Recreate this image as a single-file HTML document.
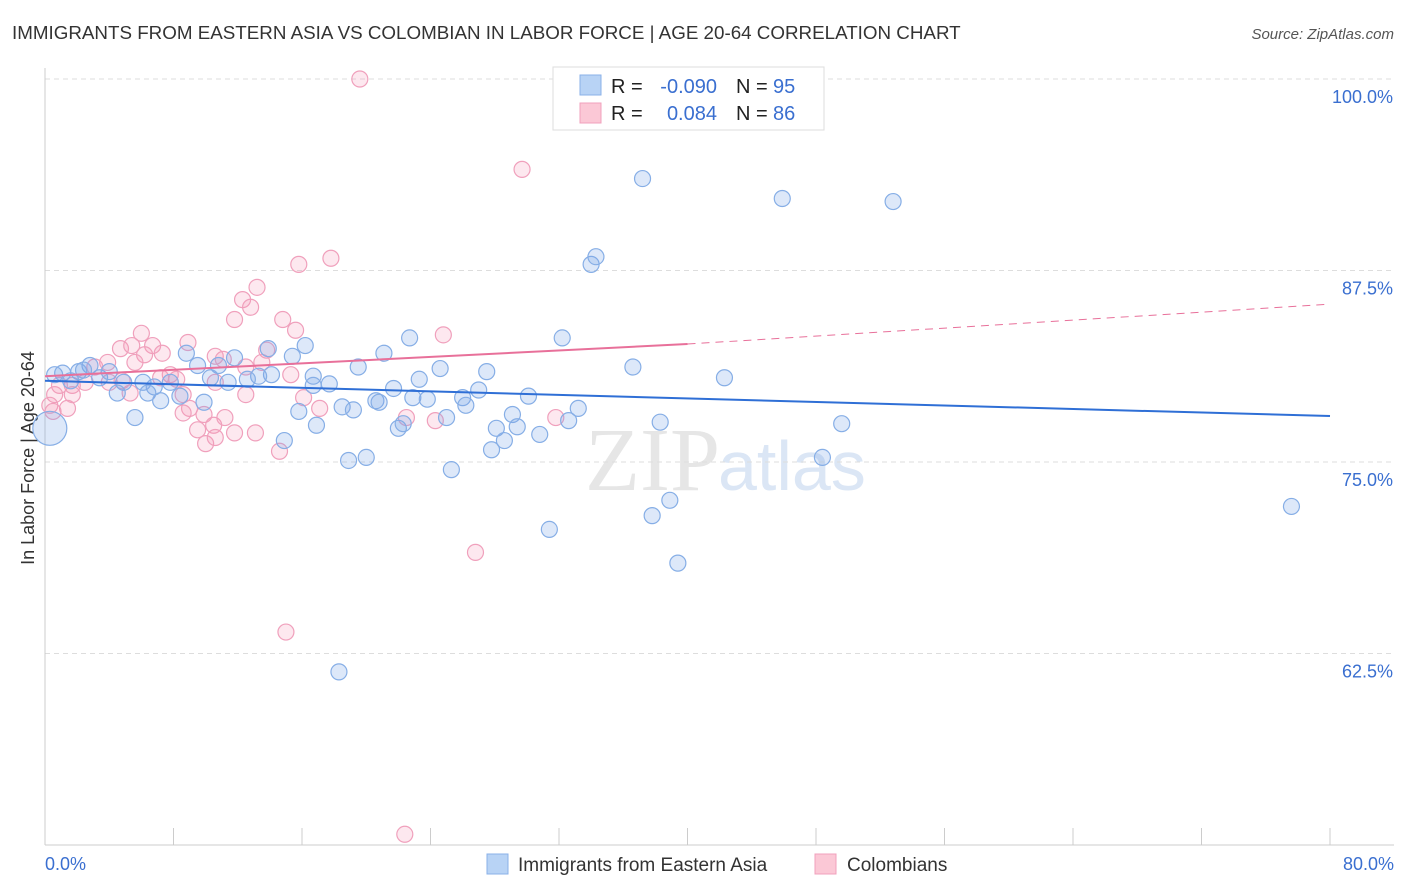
<!DOCTYPE html>
<html><head><meta charset="utf-8"><style>
body{margin:0;background:#fff;font-family:"Liberation Sans",sans-serif;}
svg{display:block}
</style></head><body>
<svg id="chart" width="1406" height="892">
<text x="12" y="39" font-size="18.8" fill="#333">IMMIGRANTS FROM EASTERN ASIA VS COLOMBIAN IN LABOR FORCE | AGE 20-64 CORRELATION CHART</text>
<text x="1394" y="39" font-size="15" fill="#555" font-style="italic" text-anchor="end">Source: ZipAtlas.com</text>
<text x="720" y="490" font-size="90" fill="#e6e6e6" text-anchor="end" font-family="Liberation Serif">ZIP</text>
<text x="718" y="490" font-size="70" fill="#dbe6f5">atlas</text>
<text transform="translate(34,458) rotate(-90)" font-size="18" fill="#333" text-anchor="middle">In Labor Force | Age 20-64</text>
<g id="grid"></g><g id="marks"></g><g id="lines"></g>
<g>
<rect x="553" y="67" width="271" height="63" fill="#fff" stroke="#ddd"/>
<rect x="580" y="75" width="21" height="20" fill="#b8d3f5" stroke="#8ab0e8"/>
<rect x="580" y="103" width="21" height="20" fill="#fbc8d6" stroke="#f0a0bc"/>
<text x="611" y="93" font-size="20" fill="#222">R =</text>
<text x="717" y="93" font-size="20" fill="#3a6fd0" text-anchor="end">-0.090</text>
<text x="736" y="93" font-size="20" fill="#222">N =</text>
<text x="773" y="93" font-size="20" fill="#3a6fd0">95</text>
<text x="611" y="120" font-size="20" fill="#222">R =</text>
<text x="717" y="120" font-size="20" fill="#3a6fd0" text-anchor="end">0.084</text>
<text x="736" y="120" font-size="20" fill="#222">N =</text>
<text x="773" y="120" font-size="20" fill="#3a6fd0">86</text>
</g>
<g>
<rect x="487" y="854" width="21" height="20" fill="#b8d3f5" stroke="#8ab0e8"/>
<text x="518" y="871" font-size="19" fill="#333">Immigrants from Eastern Asia</text>
<rect x="815" y="854" width="21" height="20" fill="#fbc8d6" stroke="#f0a0bc"/>
<text x="847" y="871" font-size="19" fill="#333">Colombians</text>
</g>
<text x="45" y="870" font-size="18" fill="#3a6fd0">0.0%</text>
<text x="1394" y="870" font-size="18" fill="#3a6fd0" text-anchor="end">80.0%</text>
</svg>
<script>
const yTicks=[100,87.5,75,62.5];
const yTickLabels=["100.0%","87.5%","75.0%","62.5%"];
const xTicks=[0,8,16,24,32,40,48,56,64,72,80];
const blueX=[37.2,45.9,52.8,34.0,34.3,32.2,36.6,42.3,22.7,21.1,24.6,27.5,16.2,15.4,13.9,11.8,8.8,9.5,10.8,14.1,13.3,12.6,11.4,10.3,7.8,6.1,6.8,6.4,7.2,8.4,9.9,5.6,4.9,4.5,3.4,2.8,2.1,1.1,0.6,0.3,1.6,4.0,16.7,16.7,17.7,19.5,15.8,14.9,16.9,18.5,19.2,18.9,20.0,20.6,20.8,21.7,22.0,22.3,22.9,23.3,23.8,25.0,25.3,26.0,26.2,27.0,27.8,28.1,28.6,29.1,29.4,30.1,30.8,31.4,32.6,33.2,37.8,38.9,38.3,39.4,48.4,49.6,77.6,18.3,2.4];
const blueY=[93.5,92.2,92.0,87.9,88.4,83.1,81.2,80.5,83.1,82.1,81.1,80.9,82.6,81.9,82.4,81.8,82.1,81.3,81.3,80.7,80.6,80.4,80.2,80.5,80.2,80.2,79.9,79.5,79.0,79.3,78.9,77.9,80.2,79.5,80.5,81.3,80.9,80.8,80.7,77.2,80.3,80.9,80.6,80.0,80.1,81.2,78.3,76.4,77.4,78.6,78.4,75.1,75.3,79.0,78.9,79.8,77.2,77.5,79.2,80.4,79.1,77.9,74.5,79.2,78.7,79.7,75.8,77.2,76.4,78.1,77.3,79.3,76.8,70.6,77.7,78.5,71.5,72.5,77.6,68.4,75.3,77.5,72.1,61.3,81.0];
const pinkX=[19.6,32.6,29.7,15.8,17.8,13.2,12.3,12.8,11.8,14.8,15.6,24.8,6.0,8.9,4.7,5.4,6.7,6.2,7.3,10.6,11.1,13.8,13.5,3.9,5.6,3.1,7.8,8.2,7.2,15.3,10.6,12.5,8.6,5.3,4.8,4.0,2.5,1.7,0.9,0.6,0.3,0.5,1.4,1.7,9.0,8.6,9.9,10.5,11.2,9.5,10.0,10.6,11.8,13.1,14.6,16.1,17.1,22.5,24.3,31.8,26.8,15.0,22.4,12.5];
const pinkY=[100,100,94.1,87.9,88.3,86.4,85.6,85.1,84.3,84.3,83.6,83.3,83.4,82.8,82.4,82.6,82.6,82.0,82.1,81.9,81.7,82.3,81.5,81.5,81.5,81.2,80.7,80.4,80.5,80.7,80.2,81.2,79.4,79.5,80.3,80.2,80.2,80.0,80.0,79.4,78.7,78.3,78.5,79.4,78.5,78.2,78.1,77.4,77.9,77.1,76.2,76.6,76.9,76.9,75.7,79.2,78.5,77.9,77.7,77.9,69.1,63.9,50.7,79.4];
const blueTrend=[80.3,78.0];
const pinkTrend=[80.6,82.7,85.3];
const NS="http://www.w3.org/2000/svg";
const X=v=>45+v/80*1285;
const Y=v=>79+(100-v)/50*766;
function mk(tag,attrs,parent){const e=document.createElementNS(NS,tag);for(const k in attrs)e.setAttribute(k,attrs[k]);parent.appendChild(e);return e;}
const grid=document.getElementById('grid'),marks=document.getElementById('marks'),lines=document.getElementById('lines');
yTicks.forEach((t,i)=>{
 const l=mk('line',{x1:45,x2:1394,y1:Y(t),y2:Y(t),stroke:'#ddd','stroke-dasharray':'5,4'},grid);
 
 
 const tx=mk('text',{x:1393,y:Y(t)+24,'font-size':18,fill:'#3a6fd0','text-anchor':'end'},grid);
 tx.textContent=yTickLabels[i];
 
 
});
const ax=mk('line',{x1:45,x2:45,y1:68,y2:845,stroke:'#ccc'},grid);


const bx=mk('line',{x1:45,x2:1394,y1:845,y2:845,stroke:'#ccc'},grid);


xTicks.forEach(t=>{
 const l=mk('line',{x1:X(t),x2:X(t),y1:828,y2:845,stroke:'#ccc'},grid);
 
 
});
pinkX.forEach((x,i)=>{
 const c=mk('circle',{cx:X(x),cy:Y(pinkY[i]),r:8,fill:'rgba(244,150,180,0.22)',stroke:'#f0a0bc','stroke-width':1.2},marks);
 
 
});
blueX.forEach((x,i)=>{
 const c=mk('circle',{cx:X(x),cy:Y(blueY[i]),r:(x<0.5&&blueY[i]<78)?17:8,fill:'rgba(120,165,230,0.25)',stroke:'#86aee6','stroke-width':1.2},marks);
 
 
});
const bl=mk('line',{x1:X(0),y1:Y(blueTrend[0]),x2:X(80),y2:Y(blueTrend[1]),stroke:'#2f6fd6','stroke-width':2},lines);


const pl=mk('line',{x1:X(0),y1:Y(pinkTrend[0]),x2:X(40),y2:Y(pinkTrend[1]),stroke:'#e8709a','stroke-width':2},lines);


const pd=mk('line',{x1:X(40),y1:Y(pinkTrend[1]),x2:X(80),y2:Y(pinkTrend[2]),stroke:'#e8709a','stroke-width':1,'stroke-dasharray':'8,6'},lines);


</script>
</body></html>
